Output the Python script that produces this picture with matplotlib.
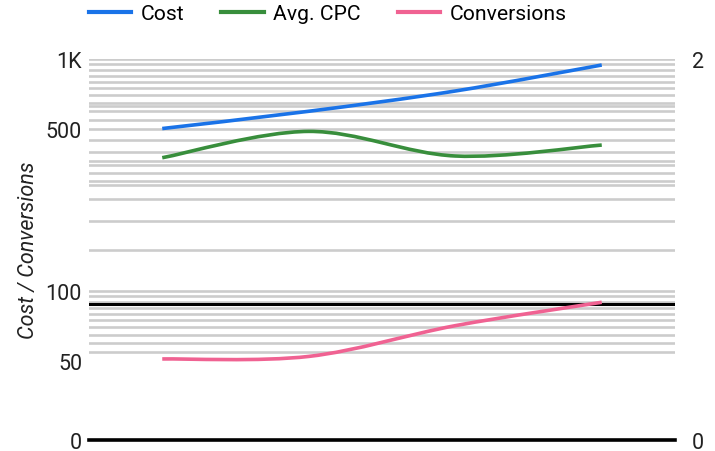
import numpy as np
import matplotlib
matplotlib.use('Agg')
import matplotlib.pyplot as plt
from matplotlib.path import Path
from matplotlib.patches import PathPatch
from matplotlib.lines import Line2D

plt.rcParams['font.family'] = ['Roboto', 'DejaVu Sans']

# data (4 periods)
periods = [0, 1, 2, 3]
cost = [503, 597, 730, 945]
avg_cpc = [0.753, 0.978, 0.766, 0.854]
conversions = [51.1, 52.4, 71.1, 89.7]

series_names = ['Cost', 'Avg. CPC', 'Conversions']
series_colors = ['#1a73e8', '#388e3c', '#f06292']

# log axis; "0" sits at the bottom of the scale
left_zero = 22.86
left_ticks = [left_zero, 50, 100, 500, 1000]
left_labels = ['0', '50', '100', '500', '1K']
right_ticks = [left_zero / 500, 2]
right_labels = ['0', '2']
grid_vals = [55, 60, 65, 70, 75, 80, 85, 90, 95, 100, 150, 200, 250, 287, 300,
             324, 350, 364, 400, 450, 500, 550, 600, 626, 650, 700, 750, 800,
             850, 900, 950, 1000]
black_line = 88.5


def smooth_patch(xs, ys, color):
    # catmull-rom -> cubic bezier, in (x, log y) space
    pts = np.column_stack([np.asarray(xs, float), np.log10(ys)])
    ext = np.vstack([pts[0], pts, pts[-1]])
    verts = [pts[0]]
    codes = [Path.MOVETO]
    for i in range(len(pts) - 1):
        p0, p1, p2, p3 = ext[i], ext[i + 1], ext[i + 2], ext[i + 3]
        verts += [p1 + (p2 - p0) / 6, p2 - (p3 - p1) / 6, p2]
        codes += [Path.CURVE4] * 3
    verts = np.array(verts)
    verts[:, 1] = 10 ** verts[:, 1]
    return PathPatch(Path(verts, codes), fill=False, edgecolor=color,
                     linewidth=2.6, capstyle='butt', zorder=5)


fig = plt.figure(figsize=(7.15, 4.52), dpi=100)
ax = fig.add_axes([89 / 715, 11 / 452, 586 / 715, 380.7 / 452])
ax.set_yscale('log')
ax.set_xlim(-0.5, 3.5)
ax.set_ylim(left_zero, 1000)

for v in grid_vals:
    ax.axhline(v, color='#cccccc', linewidth=1.9, zorder=1)
ax.axhline(black_line, color='black', linewidth=2.2, zorder=2)
ax.axhline(left_zero, color='black', linewidth=2.6, zorder=2, clip_on=False)

ax.add_patch(smooth_patch(periods, cost, series_colors[0]))
ax.add_patch(smooth_patch(periods, conversions, series_colors[2]))

ax2 = ax.twinx()
ax2.set_yscale('log')
ax2.set_ylim(left_zero / 500, 2)
ax2.add_patch(smooth_patch(periods, avg_cpc, series_colors[1]))

ax.set_yticks(left_ticks)
ax.set_yticklabels(left_labels)
ax.minorticks_off()
ax2.set_yticks(right_ticks)
ax2.set_yticklabels(right_labels)
ax2.minorticks_off()
ax.set_xticks([])

for a in (ax, ax2):
    for s in a.spines.values():
        s.set_visible(False)
ax.tick_params(axis='y', length=0, pad=5, labelsize=15.5, labelcolor='#222222')
ax2.tick_params(axis='y', length=0, pad=12, labelsize=15.5, labelcolor='#222222')

ax.set_ylabel('Cost / Conversions', fontsize=15.5, style='italic',
              color='#222222', labelpad=5)

handles = [Line2D([], [], color=c, linewidth=3) for c in series_colors]
fig.legend(handles, series_names, loc='center left',
           bbox_to_anchor=(89 / 715, 1 - 15 / 452), ncol=3, frameon=False,
           fontsize=15.2, handlelength=2.0, handletextpad=0.45,
           columnspacing=1.75, borderpad=0, borderaxespad=0)

fig.savefig('out.png', dpi=100)
